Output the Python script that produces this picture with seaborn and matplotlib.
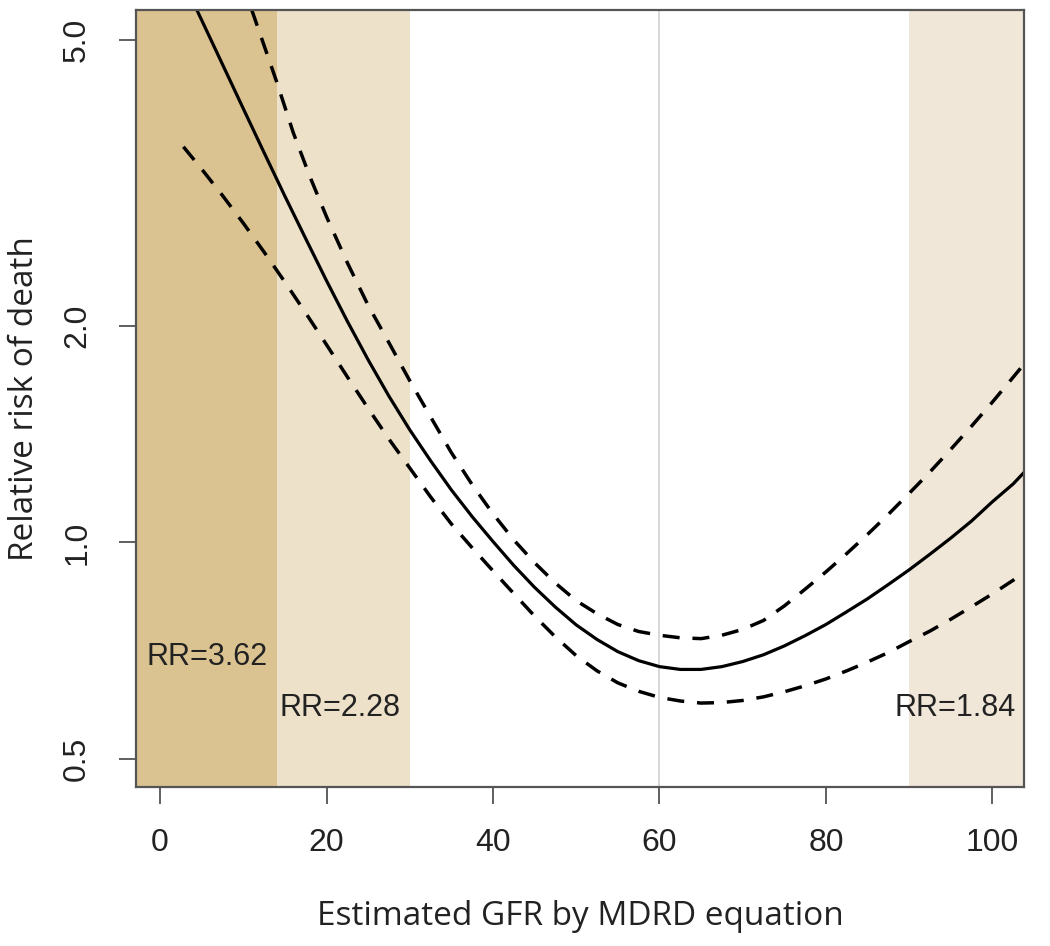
import numpy as np
import pandas as pd
import matplotlib
matplotlib.use("Agg")
import matplotlib.pyplot as plt
import seaborn as sns

# fitted relative risk, every 2.5 GFR units
gfr_fit = [4.4, 7, 10, 12.5, 15, 17.5, 20, 22.5, 25, 27.5, 30, 32.5, 35, 37.5, 40, 42.5,
           45, 47.5, 50, 52.5, 55, 57.5, 60, 62.5, 65, 67.5, 70, 72.5, 75, 77.5, 80,
           82.5, 85, 87.5, 90, 92.5, 95, 97.5, 100, 102.5, 104]
rr_fit = [5.505, 4.752, 4.009, 3.482, 3.029, 2.644, 2.311, 2.030, 1.794, 1.597, 1.434,
          1.299, 1.183, 1.086, 1.003, 0.929, 0.866, 0.813, 0.768, 0.733, 0.705, 0.685,
          0.672, 0.666, 0.666, 0.672, 0.683, 0.698, 0.718, 0.742, 0.769, 0.801, 0.835,
          0.874, 0.916, 0.963, 1.014, 1.071, 1.139, 1.206, 1.258]

# upper 95% limit
gfr_up = [11.0, 12.5, 14, 16, 18, 20, 22.5, 25, 27.5, 30, 32.5, 35, 37.5, 40, 42.5, 45,
          47.5, 50, 52.5, 55, 57.5, 60, 62.5, 65, 67.5, 70, 72.5, 75, 77.5, 80, 82.5,
          85, 87.5, 90, 92.5, 95, 97.5, 100, 102.5, 104]
rr_up = [5.505, 4.906, 4.371, 3.713, 3.225, 2.836, 2.448, 2.136, 1.895, 1.678, 1.495,
         1.333, 1.203, 1.096, 1.008, 0.937, 0.878, 0.830, 0.796, 0.769, 0.752, 0.743,
         0.737, 0.735, 0.743, 0.757, 0.779, 0.816, 0.861, 0.910, 0.965, 1.026, 1.094,
         1.170, 1.253, 1.347, 1.451, 1.567, 1.697, 1.781]

# lower 95% limit
gfr_lo = [2.8, 5, 7.5, 10, 12.5, 15, 17.5, 20, 22.5, 25, 27.5, 30, 32.5, 35, 37.5, 40,
          42.5, 45, 47.5, 50, 52.5, 55, 57.5, 60, 62.5, 65, 67.5, 70, 72.5, 75, 77.5,
          80, 82.5, 85, 87.5, 90, 92.5, 95, 97.5, 100, 102.5, 104]
rr_lo = [3.549, 3.304, 3.036, 2.779, 2.533, 2.301, 2.084, 1.883, 1.699, 1.536, 1.392,
         1.269, 1.157, 1.061, 0.983, 0.913, 0.849, 0.790, 0.739, 0.696, 0.663, 0.638,
         0.621, 0.609, 0.602, 0.598, 0.599, 0.603, 0.610, 0.620, 0.632, 0.646, 0.663,
         0.682, 0.703, 0.728, 0.753, 0.782, 0.814, 0.848, 0.886, 0.910]

# shaded GFR bands and their labels
band_start = [-2.9, 14, 90]
band_end = [14, 30, 104]
band_col = ["#dbc391", "#ede1c9", "#f1e7d8"]
rr_labels = ["RR=3.62", "RR=2.28", "RR=1.84"]
label_x = [-1.6, 14.4, 88.2]
label_y = [0.693, 0.589, 0.589]

df = pd.concat([
    pd.DataFrame({"gfr": gfr_fit, "rr": rr_fit, "curve": "fit"}),
    pd.DataFrame({"gfr": gfr_up, "rr": rr_up, "curve": "upper"}),
    pd.DataFrame({"gfr": gfr_lo, "rr": rr_lo, "curve": "lower"}),
])

sns.set_style("white")
plt.rcParams["font.family"] = ["Liberation Sans", "DejaVu Sans"]

fig = plt.figure(figsize=(10.5, 9.46), dpi=100)
ax = fig.add_axes([0.1295, 0.168, 0.8457, 0.8215])

for s, e, c in zip(band_start, band_end, band_col):
    ax.axvspan(s, e, color=c, lw=0, zorder=0)
ax.axvline(60, color="#d4d4d4", lw=1.3, zorder=1)

sns.lineplot(data=df[df.curve == "fit"], x="gfr", y="rr", color="black",
             lw=2.3, ax=ax, sort=False, zorder=3)
for name in ["upper", "lower"]:
    sns.lineplot(data=df[df.curve == name], x="gfr", y="rr", color="black",
                 lw=2.5, ax=ax, sort=False, zorder=3, dashes=False,
                 linestyle=(0, (4.9, 3.7)))

for t, x, y in zip(rr_labels, label_x, label_y):
    ax.text(x, y, t, fontsize=22, color="#222222", va="center", ha="left", zorder=4)

ax.set_yscale("log")
ax.set_xlim(-2.9, 103.8)
ax.set_ylim(0.457, 5.5)
ax.set_xticks([0, 20, 40, 60, 80, 100])
ax.set_yticks([0.5, 1.0, 2.0, 5.0])
ax.set_yticklabels(["0.5", "1.0", "2.0", "5.0"], rotation=90, va="center")
ax.minorticks_off()
ax.tick_params(axis="both", which="major", direction="out", bottom=True, left=True,
               length=12.5, width=1.2, color="#444444",
               labelsize=23, labelcolor="#222222", pad=17)
ax.tick_params(axis="y", pad=19)
for sp in ax.spines.values():
    sp.set_color("#555555")
    sp.set_linewidth(1.6)
    sp.set_zorder(5)

ax.set_xlabel("Estimated GFR by MDRD equation", fontsize=24, family="Open Sans",
              color="#222222", labelpad=30)
ax.set_ylabel("Relative risk of death", fontsize=24, family="Open Sans",
              color="#222222", labelpad=15)

fig.savefig("out.png", dpi=100)
